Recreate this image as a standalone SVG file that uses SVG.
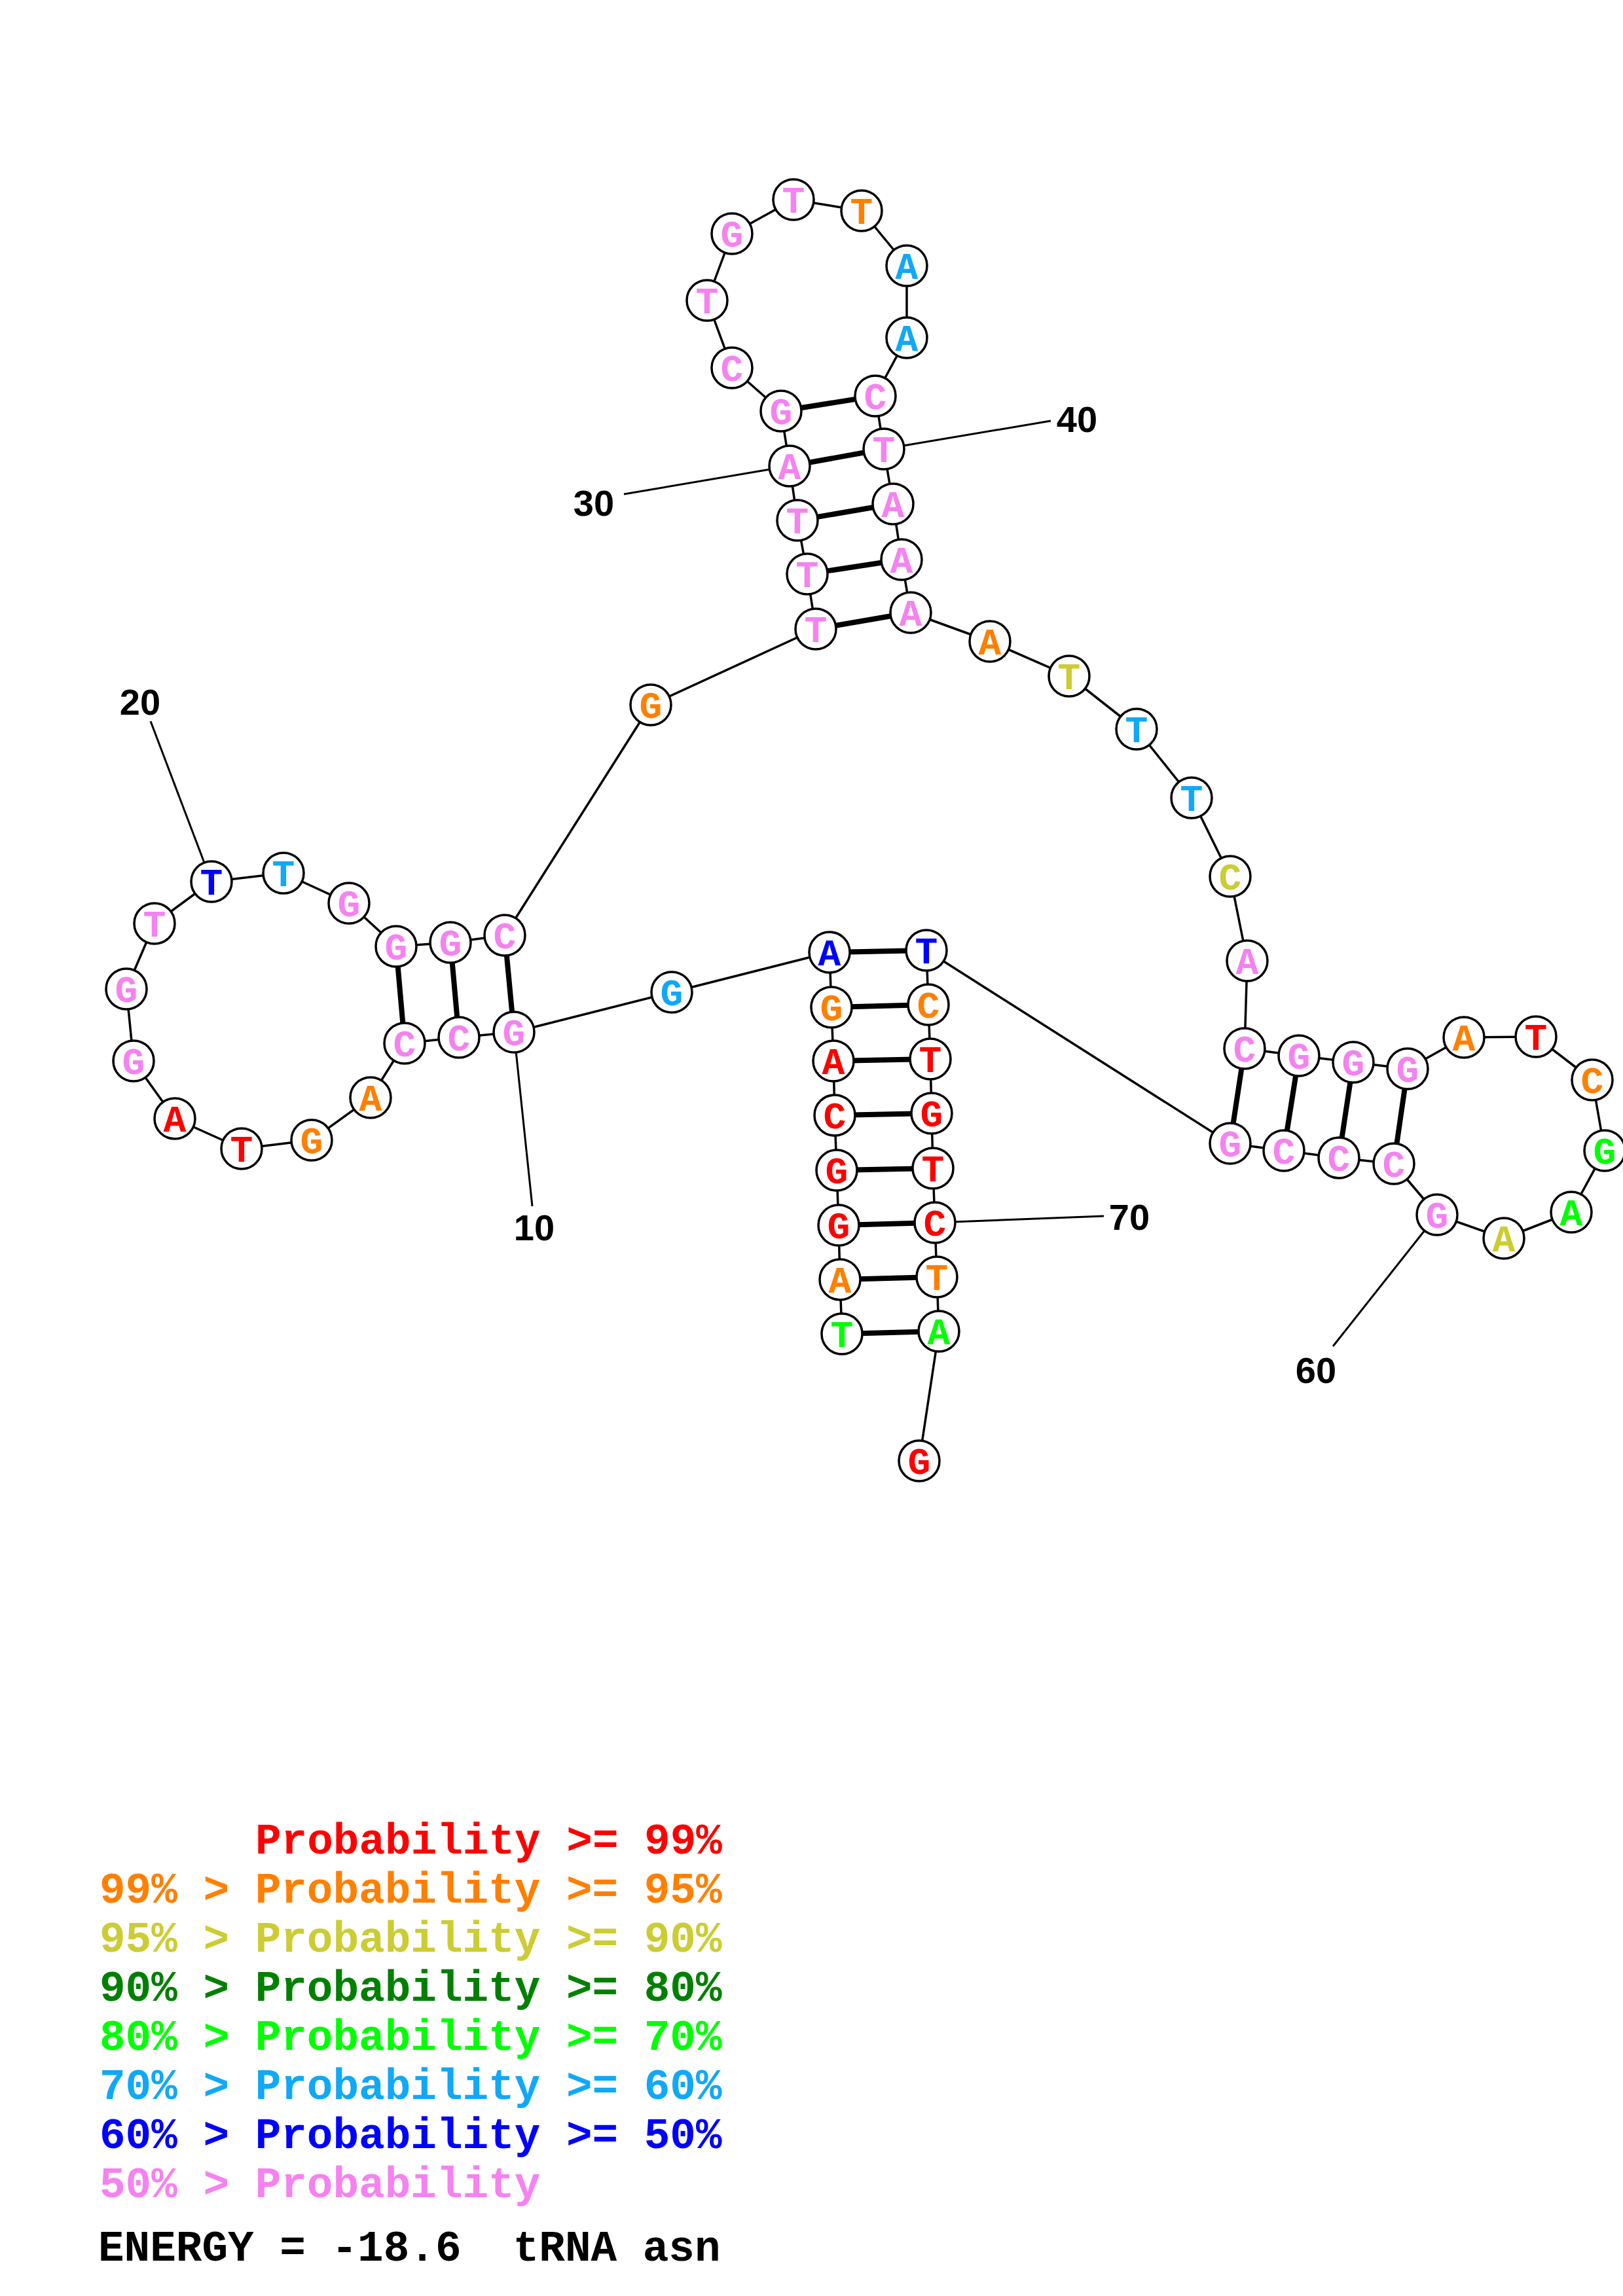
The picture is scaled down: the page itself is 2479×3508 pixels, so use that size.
<svg xmlns="http://www.w3.org/2000/svg" width="2479" height="3508" viewBox="0 0 2479 3508">
<style>
.bg{fill:#fff}
.bb line{stroke:#000;stroke-width:3.5;stroke-linecap:round}
.bp line{stroke:#000;stroke-width:8}
.tk line{stroke:#000;stroke-width:3}
.n circle{fill:#fff;stroke:#000;stroke-width:3.5}
.n text{font-family:"Liberation Mono","DejaVu Sans Mono",monospace;font-weight:bold;font-size:58px;text-anchor:middle}
.num{font-family:"Liberation Sans","DejaVu Sans",sans-serif;font-weight:bold;font-size:56px;text-anchor:middle;fill:#000}
.lg{font-family:"Liberation Mono","DejaVu Sans Mono",monospace;font-weight:bold;font-size:66px;white-space:pre}
.r{fill:#FF0000}.o{fill:#FF8000}.y{fill:#CCCC33}.dg{fill:#008000}.g{fill:#00FF00}.lb{fill:#10A8F8}.b{fill:#0000FF}.p{fill:#F582F0}.k{fill:#000}
</style>
<rect class="bg" x="0" y="0" width="2479" height="3508"/>
<g id="connectors">
<g class="bb">
<line x1="1286" y1="2038" x2="1283" y2="1955"/>
<line x1="1283" y1="1955" x2="1281" y2="1872"/>
<line x1="1281" y1="1872" x2="1278" y2="1788"/>
<line x1="1278" y1="1788" x2="1275" y2="1704"/>
<line x1="1275" y1="1704" x2="1273" y2="1621"/>
<line x1="1273" y1="1621" x2="1270" y2="1539"/>
<line x1="1270" y1="1539" x2="1267" y2="1455"/>
<line x1="1267" y1="1455" x2="1026" y2="1516"/>
<line x1="1026" y1="1516" x2="785" y2="1577"/>
<line x1="785" y1="1577" x2="701" y2="1585"/>
<line x1="701" y1="1585" x2="618" y2="1594"/>
<line x1="618" y1="1594" x2="566" y2="1677"/>
<line x1="566" y1="1677" x2="476" y2="1742"/>
<line x1="476" y1="1742" x2="369" y2="1755"/>
<line x1="369" y1="1755" x2="267" y2="1709"/>
<line x1="267" y1="1709" x2="204" y2="1621"/>
<line x1="204" y1="1621" x2="193" y2="1511"/>
<line x1="193" y1="1511" x2="236" y2="1411"/>
<line x1="236" y1="1411" x2="323" y2="1347"/>
<line x1="323" y1="1347" x2="433" y2="1334"/>
<line x1="433" y1="1334" x2="533" y2="1380"/>
<line x1="533" y1="1380" x2="605" y2="1446"/>
<line x1="605" y1="1446" x2="688" y2="1440"/>
<line x1="688" y1="1440" x2="771" y2="1429"/>
<line x1="771" y1="1429" x2="994" y2="1077"/>
<line x1="994" y1="1077" x2="1246" y2="961"/>
<line x1="1246" y1="961" x2="1233" y2="877"/>
<line x1="1233" y1="877" x2="1218" y2="795"/>
<line x1="1218" y1="795" x2="1206" y2="712"/>
<line x1="1206" y1="712" x2="1193" y2="628"/>
<line x1="1193" y1="628" x2="1118" y2="562"/>
<line x1="1118" y1="562" x2="1080" y2="459"/>
<line x1="1080" y1="459" x2="1118" y2="357"/>
<line x1="1118" y1="357" x2="1212" y2="305"/>
<line x1="1212" y1="305" x2="1316" y2="322"/>
<line x1="1316" y1="322" x2="1385" y2="406"/>
<line x1="1385" y1="406" x2="1385" y2="516"/>
<line x1="1385" y1="516" x2="1337" y2="605"/>
<line x1="1337" y1="605" x2="1350" y2="686"/>
<line x1="1350" y1="686" x2="1364" y2="770"/>
<line x1="1364" y1="770" x2="1377" y2="855"/>
<line x1="1377" y1="855" x2="1391" y2="936"/>
<line x1="1391" y1="936" x2="1512" y2="980"/>
<line x1="1512" y1="980" x2="1633" y2="1033"/>
<line x1="1633" y1="1033" x2="1736" y2="1114"/>
<line x1="1736" y1="1114" x2="1820" y2="1219"/>
<line x1="1820" y1="1219" x2="1879" y2="1339"/>
<line x1="1879" y1="1339" x2="1905" y2="1468"/>
<line x1="1905" y1="1468" x2="1901" y2="1602"/>
<line x1="1901" y1="1602" x2="1984" y2="1613"/>
<line x1="1984" y1="1613" x2="2067" y2="1623"/>
<line x1="2067" y1="1623" x2="2150" y2="1633"/>
<line x1="2150" y1="1633" x2="2236" y2="1585"/>
<line x1="2236" y1="1585" x2="2346" y2="1584"/>
<line x1="2346" y1="1584" x2="2432" y2="1650"/>
<line x1="2432" y1="1650" x2="2451" y2="1758"/>
<line x1="2451" y1="1758" x2="2400" y2="1852"/>
<line x1="2400" y1="1852" x2="2297" y2="1892"/>
<line x1="2297" y1="1892" x2="2195" y2="1856"/>
<line x1="2195" y1="1856" x2="2129" y2="1778"/>
<line x1="2129" y1="1778" x2="2045" y2="1769"/>
<line x1="2045" y1="1769" x2="1961" y2="1758"/>
<line x1="1961" y1="1758" x2="1879" y2="1747"/>
<line x1="1879" y1="1747" x2="1415" y2="1452"/>
<line x1="1415" y1="1452" x2="1418" y2="1535"/>
<line x1="1418" y1="1535" x2="1421" y2="1618"/>
<line x1="1421" y1="1618" x2="1423" y2="1701"/>
<line x1="1423" y1="1701" x2="1425" y2="1785"/>
<line x1="1425" y1="1785" x2="1428" y2="1868"/>
<line x1="1428" y1="1868" x2="1431" y2="1951"/>
<line x1="1431" y1="1951" x2="1434" y2="2034"/>
<line x1="1434" y1="2034" x2="1404" y2="2232"/>
</g>
<g class="bp">
<line x1="1286" y1="2038" x2="1434" y2="2034"/>
<line x1="1283" y1="1955" x2="1431" y2="1951"/>
<line x1="1281" y1="1872" x2="1428" y2="1868"/>
<line x1="1278" y1="1788" x2="1425" y2="1785"/>
<line x1="1275" y1="1704" x2="1423" y2="1701"/>
<line x1="1273" y1="1621" x2="1421" y2="1618"/>
<line x1="1270" y1="1539" x2="1418" y2="1535"/>
<line x1="1267" y1="1455" x2="1415" y2="1452"/>
<line x1="785" y1="1577" x2="771" y2="1429"/>
<line x1="701" y1="1585" x2="688" y2="1440"/>
<line x1="618" y1="1594" x2="605" y2="1446"/>
<line x1="1246" y1="961" x2="1391" y2="936"/>
<line x1="1233" y1="877" x2="1377" y2="855"/>
<line x1="1218" y1="795" x2="1364" y2="770"/>
<line x1="1206" y1="712" x2="1350" y2="686"/>
<line x1="1193" y1="628" x2="1337" y2="605"/>
<line x1="1901" y1="1602" x2="1879" y2="1747"/>
<line x1="1984" y1="1613" x2="1961" y2="1758"/>
<line x1="2067" y1="1623" x2="2045" y2="1769"/>
<line x1="2150" y1="1633" x2="2129" y2="1778"/>
</g>
<g class="tk">
<line x1="785" y1="1577" x2="813" y2="1843"/>
<line x1="323" y1="1347" x2="230" y2="1102"/>
<line x1="1206" y1="712" x2="953" y2="755"/>
<line x1="1350" y1="686" x2="1605" y2="643"/>
<line x1="2195" y1="1856" x2="2036" y2="2057"/>
<line x1="1428" y1="1868" x2="1686" y2="1858"/>
</g>
</g>
<g id="labels">
<text class="num" x="816" y="1895">10</text>
<text class="num" x="214" y="1092">20</text>
<text class="num" x="907" y="788">30</text>
<text class="num" x="1645" y="660">40</text>
<text class="num" x="2010" y="2113">60</text>
<text class="num" x="1725" y="1879">70</text>
</g>
<g id="nodes">
<g id="n1" class="n"><circle cx="1286" cy="2038" r="31"/><text x="1286" y="2058" class="g">T</text></g>
<g id="n2" class="n"><circle cx="1283" cy="1955" r="31"/><text x="1283" y="1975" class="o">A</text></g>
<g id="n3" class="n"><circle cx="1281" cy="1872" r="31"/><text x="1281" y="1892" class="r">G</text></g>
<g id="n4" class="n"><circle cx="1278" cy="1788" r="31"/><text x="1278" y="1808" class="r">G</text></g>
<g id="n5" class="n"><circle cx="1275" cy="1704" r="31"/><text x="1275" y="1724" class="r">C</text></g>
<g id="n6" class="n"><circle cx="1273" cy="1621" r="31"/><text x="1273" y="1641" class="r">A</text></g>
<g id="n7" class="n"><circle cx="1270" cy="1539" r="31"/><text x="1270" y="1559" class="o">G</text></g>
<g id="n8" class="n"><circle cx="1267" cy="1455" r="31"/><text x="1267" y="1475" class="b">A</text></g>
<g id="n9" class="n"><circle cx="1026" cy="1516" r="31"/><text x="1026" y="1536" class="lb">G</text></g>
<g id="n10" class="n"><circle cx="785" cy="1577" r="31"/><text x="785" y="1597" class="p">G</text></g>
<g id="n11" class="n"><circle cx="701" cy="1585" r="31"/><text x="701" y="1605" class="p">C</text></g>
<g id="n12" class="n"><circle cx="618" cy="1594" r="31"/><text x="618" y="1614" class="p">C</text></g>
<g id="n13" class="n"><circle cx="566" cy="1677" r="31"/><text x="566" y="1697" class="o">A</text></g>
<g id="n14" class="n"><circle cx="476" cy="1742" r="31"/><text x="476" y="1762" class="o">G</text></g>
<g id="n15" class="n"><circle cx="369" cy="1755" r="31"/><text x="369" y="1775" class="r">T</text></g>
<g id="n16" class="n"><circle cx="267" cy="1709" r="31"/><text x="267" y="1729" class="r">A</text></g>
<g id="n17" class="n"><circle cx="204" cy="1621" r="31"/><text x="204" y="1641" class="p">G</text></g>
<g id="n18" class="n"><circle cx="193" cy="1511" r="31"/><text x="193" y="1531" class="p">G</text></g>
<g id="n19" class="n"><circle cx="236" cy="1411" r="31"/><text x="236" y="1431" class="p">T</text></g>
<g id="n20" class="n"><circle cx="323" cy="1347" r="31"/><text x="323" y="1367" class="b">T</text></g>
<g id="n21" class="n"><circle cx="433" cy="1334" r="31"/><text x="433" y="1354" class="lb">T</text></g>
<g id="n22" class="n"><circle cx="533" cy="1380" r="31"/><text x="533" y="1400" class="p">G</text></g>
<g id="n23" class="n"><circle cx="605" cy="1446" r="31"/><text x="605" y="1466" class="p">G</text></g>
<g id="n24" class="n"><circle cx="688" cy="1440" r="31"/><text x="688" y="1460" class="p">G</text></g>
<g id="n25" class="n"><circle cx="771" cy="1429" r="31"/><text x="771" y="1449" class="p">C</text></g>
<g id="n26" class="n"><circle cx="994" cy="1077" r="31"/><text x="994" y="1097" class="o">G</text></g>
<g id="n27" class="n"><circle cx="1246" cy="961" r="31"/><text x="1246" y="981" class="p">T</text></g>
<g id="n28" class="n"><circle cx="1233" cy="877" r="31"/><text x="1233" y="897" class="p">T</text></g>
<g id="n29" class="n"><circle cx="1218" cy="795" r="31"/><text x="1218" y="815" class="p">T</text></g>
<g id="n30" class="n"><circle cx="1206" cy="712" r="31"/><text x="1206" y="732" class="p">A</text></g>
<g id="n31" class="n"><circle cx="1193" cy="628" r="31"/><text x="1193" y="648" class="p">G</text></g>
<g id="n32" class="n"><circle cx="1118" cy="562" r="31"/><text x="1118" y="582" class="p">C</text></g>
<g id="n33" class="n"><circle cx="1080" cy="459" r="31"/><text x="1080" y="479" class="p">T</text></g>
<g id="n34" class="n"><circle cx="1118" cy="357" r="31"/><text x="1118" y="377" class="p">G</text></g>
<g id="n35" class="n"><circle cx="1212" cy="305" r="31"/><text x="1212" y="325" class="p">T</text></g>
<g id="n36" class="n"><circle cx="1316" cy="322" r="31"/><text x="1316" y="342" class="o">T</text></g>
<g id="n37" class="n"><circle cx="1385" cy="406" r="31"/><text x="1385" y="426" class="lb">A</text></g>
<g id="n38" class="n"><circle cx="1385" cy="516" r="31"/><text x="1385" y="536" class="lb">A</text></g>
<g id="n39" class="n"><circle cx="1337" cy="605" r="31"/><text x="1337" y="625" class="p">C</text></g>
<g id="n40" class="n"><circle cx="1350" cy="686" r="31"/><text x="1350" y="706" class="p">T</text></g>
<g id="n41" class="n"><circle cx="1364" cy="770" r="31"/><text x="1364" y="790" class="p">A</text></g>
<g id="n42" class="n"><circle cx="1377" cy="855" r="31"/><text x="1377" y="875" class="p">A</text></g>
<g id="n43" class="n"><circle cx="1391" cy="936" r="31"/><text x="1391" y="956" class="p">A</text></g>
<g id="n44" class="n"><circle cx="1512" cy="980" r="31"/><text x="1512" y="1000" class="o">A</text></g>
<g id="n45" class="n"><circle cx="1633" cy="1033" r="31"/><text x="1633" y="1053" class="y">T</text></g>
<g id="n46" class="n"><circle cx="1736" cy="1114" r="31"/><text x="1736" y="1134" class="lb">T</text></g>
<g id="n47" class="n"><circle cx="1820" cy="1219" r="31"/><text x="1820" y="1239" class="lb">T</text></g>
<g id="n48" class="n"><circle cx="1879" cy="1339" r="31"/><text x="1879" y="1359" class="y">C</text></g>
<g id="n49" class="n"><circle cx="1905" cy="1468" r="31"/><text x="1905" y="1488" class="p">A</text></g>
<g id="n50" class="n"><circle cx="1901" cy="1602" r="31"/><text x="1901" y="1622" class="p">C</text></g>
<g id="n51" class="n"><circle cx="1984" cy="1613" r="31"/><text x="1984" y="1633" class="p">G</text></g>
<g id="n52" class="n"><circle cx="2067" cy="1623" r="31"/><text x="2067" y="1643" class="p">G</text></g>
<g id="n53" class="n"><circle cx="2150" cy="1633" r="31"/><text x="2150" y="1653" class="p">G</text></g>
<g id="n54" class="n"><circle cx="2236" cy="1585" r="31"/><text x="2236" y="1605" class="o">A</text></g>
<g id="n55" class="n"><circle cx="2346" cy="1584" r="31"/><text x="2346" y="1604" class="r">T</text></g>
<g id="n56" class="n"><circle cx="2432" cy="1650" r="31"/><text x="2432" y="1670" class="o">C</text></g>
<g id="n57" class="n"><circle cx="2451" cy="1758" r="31"/><text x="2451" y="1778" class="g">G</text></g>
<g id="n58" class="n"><circle cx="2400" cy="1852" r="31"/><text x="2400" y="1872" class="g">A</text></g>
<g id="n59" class="n"><circle cx="2297" cy="1892" r="31"/><text x="2297" y="1912" class="y">A</text></g>
<g id="n60" class="n"><circle cx="2195" cy="1856" r="31"/><text x="2195" y="1876" class="p">G</text></g>
<g id="n61" class="n"><circle cx="2129" cy="1778" r="31"/><text x="2129" y="1798" class="p">C</text></g>
<g id="n62" class="n"><circle cx="2045" cy="1769" r="31"/><text x="2045" y="1789" class="p">C</text></g>
<g id="n63" class="n"><circle cx="1961" cy="1758" r="31"/><text x="1961" y="1778" class="p">C</text></g>
<g id="n64" class="n"><circle cx="1879" cy="1747" r="31"/><text x="1879" y="1767" class="p">G</text></g>
<g id="n65" class="n"><circle cx="1415" cy="1452" r="31"/><text x="1415" y="1472" class="b">T</text></g>
<g id="n66" class="n"><circle cx="1418" cy="1535" r="31"/><text x="1418" y="1555" class="o">C</text></g>
<g id="n67" class="n"><circle cx="1421" cy="1618" r="31"/><text x="1421" y="1638" class="r">T</text></g>
<g id="n68" class="n"><circle cx="1423" cy="1701" r="31"/><text x="1423" y="1721" class="r">G</text></g>
<g id="n69" class="n"><circle cx="1425" cy="1785" r="31"/><text x="1425" y="1805" class="r">T</text></g>
<g id="n70" class="n"><circle cx="1428" cy="1868" r="31"/><text x="1428" y="1888" class="r">C</text></g>
<g id="n71" class="n"><circle cx="1431" cy="1951" r="31"/><text x="1431" y="1971" class="o">T</text></g>
<g id="n72" class="n"><circle cx="1434" cy="2034" r="31"/><text x="1434" y="2054" class="g">A</text></g>
<g id="n73" class="n"><circle cx="1404" cy="2232" r="31"/><text x="1404" y="2252" class="r">G</text></g>
</g>
<g id="legend">
<text x="390" y="2832" class="lg r">Probability &gt;= 99%</text>
<text x="152" y="2907" class="lg o">99% &gt; Probability &gt;= 95%</text>
<text x="152" y="2982" class="lg y">95% &gt; Probability &gt;= 90%</text>
<text x="152" y="3057" class="lg dg">90% &gt; Probability &gt;= 80%</text>
<text x="152" y="3132" class="lg g">80% &gt; Probability &gt;= 70%</text>
<text x="152" y="3207" class="lg lb">70% &gt; Probability &gt;= 60%</text>
<text x="152" y="3282" class="lg b">60% &gt; Probability &gt;= 50%</text>
<text x="152" y="3357" class="lg p">50% &gt; Probability</text>
<text x="150" y="3454" class="lg k">ENERGY = -18.6  tRNA asn</text>
</g>
</svg>
